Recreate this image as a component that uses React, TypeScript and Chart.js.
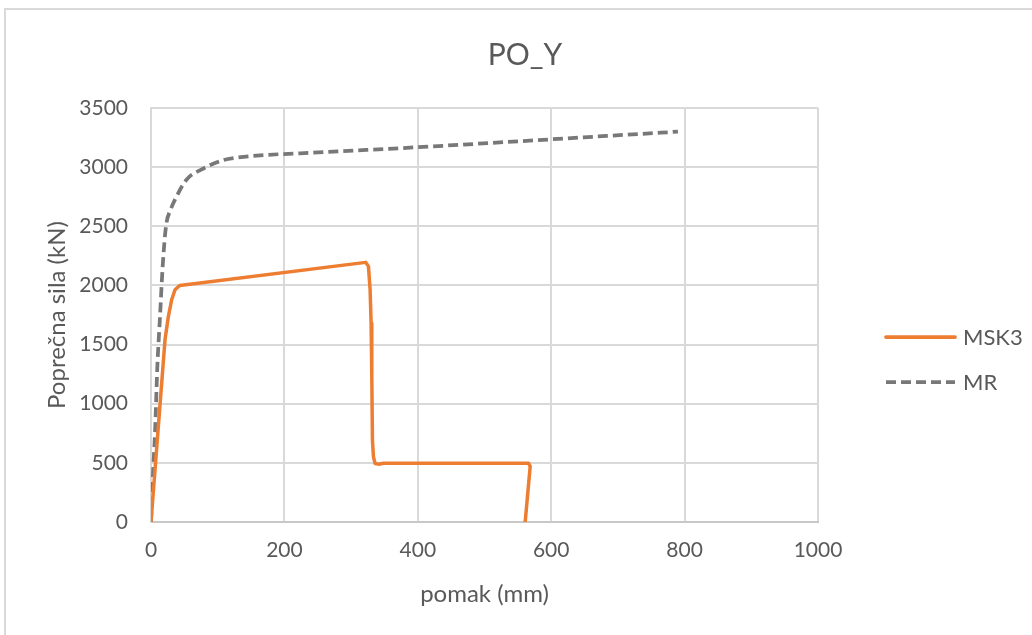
import React, { useEffect, useRef } from "react";
import { Chart, registerables } from "chart.js";

Chart.register(...registerables);

const chartTitle = "PO_Y";
const xAxisTitle = "pomak (mm)";
const yAxisTitle = "Poprečna sila (kN)";

const msk3Name = "MSK3";
const msk3X = [0, 21, 26, 31, 36, 43, 322, 326, 328.5, 330, 331, 332, 333.5, 336, 341, 348.5, 566, 568.5, 561];
const msk3Y = [0, 1540, 1737, 1879, 1964, 2000, 2195, 2161, 1964, 1681, 1258, 692, 551, 495, 489, 497, 497, 470, 0];

const mrName = "MR";
const mrX = [0, 3.5, 6, 9.5, 13.5, 17.5, 22.5, 29.5, 38.5, 53.5, 76, 108.5, 125, 263.5, 373.5, 790];
const mrY = [0, 466, 750, 1313, 1737, 2161, 2500, 2641, 2754, 2896, 2981, 3060, 3078, 3128, 3160, 3300];

const xMin = 0;
const xMax = 1000;
const xStep = 200;
const yMin = 0;
const yMax = 3500;
const yStep = 500;

const ORANGE = "#ED7D31";
const GRAY = "#787878";
const TEXT = "#595959";
const GRID = "#D9D9D9";
const FONT = "Lato, 'Open Sans', sans-serif";

const toPoints = (xs: number[], ys: number[]) => xs.map((x, i) => ({ x, y: ys[i] }));

const frameTitleLegend = {
  id: "frameTitleLegend",
  beforeDraw(chart: any) {
    const { ctx, width, height } = chart;
    ctx.save();
    ctx.fillStyle = "#ffffff";
    ctx.fillRect(0, 0, width, height);
    ctx.strokeStyle = GRID;
    ctx.lineWidth = 2;
    ctx.beginPath();
    ctx.moveTo(5, height + 5);
    ctx.lineTo(5, 9);
    ctx.lineTo(width + 5, 9);
    ctx.stroke();
    ctx.fillStyle = TEXT;
    ctx.font = `30px ${FONT}`;
    ctx.textAlign = "center";
    ctx.textBaseline = "middle";
    ctx.fillText(chartTitle, 525, 55);
    ctx.restore();
  },
  afterDraw(chart: any) {
    const { ctx } = chart;
    const items = chart.data.datasets.map((ds: any, i: number) => ({
      label: ds.label,
      color: ds.borderColor,
      dash: ds.borderDash || [],
      y: 337 + i * 45,
    }));
    ctx.save();
    items.forEach((it: any) => {
      ctx.strokeStyle = it.color;
      ctx.lineWidth = 3.75;
      ctx.lineCap = it.dash.length ? "butt" : "round";
      ctx.setLineDash(it.dash);
      ctx.beginPath();
      ctx.moveTo(886, it.y);
      ctx.lineTo(955, it.y);
      ctx.stroke();
      ctx.setLineDash([]);
      ctx.fillStyle = TEXT;
      ctx.font = `22px ${FONT}`;
      ctx.textBaseline = "middle";
      ctx.textAlign = "left";
      ctx.fillText(it.label, 963, it.y + 1);
    });
    ctx.restore();
  },
};

export default function App() {
  const ref = useRef<HTMLCanvasElement | null>(null);

  useEffect(() => {
    document.body.style.margin = "0";
    const canvas = ref.current;
    if (!canvas) return;
    const chart = new Chart(canvas, {
      type: "scatter",
      data: {
        datasets: [
          {
            label: msk3Name,
            data: toPoints(msk3X, msk3Y),
            showLine: true,
            borderColor: ORANGE,
            backgroundColor: ORANGE,
            borderWidth: 3.5,
            pointRadius: 0,
            tension: 0,
            borderJoinStyle: "round",
            borderCapStyle: "round",
          },
          {
            label: mrName,
            data: toPoints(mrX, mrY),
            showLine: true,
            borderColor: GRAY,
            backgroundColor: GRAY,
            borderWidth: 3.75,
            borderDash: [10, 5],
            pointRadius: 0,
            tension: 0.3,
            cubicInterpolationMode: "monotone",
          },
        ],
      },
      options: {
        animation: false,
        responsive: false,
        maintainAspectRatio: false,
        layout: { padding: { left: 0, right: 214, top: 108, bottom: 0 } },
        plugins: {
          legend: { display: false },
          tooltip: { enabled: false },
          title: { display: false },
        },
        scales: {
          x: {
            type: "linear",
            min: xMin,
            max: xMax,
            ticks: {
              stepSize: xStep,
              color: TEXT,
              font: { family: FONT, size: 21 },
              padding: 16,
              maxRotation: 0,
              callback: (v: any) => String(v),
            },
            grid: { color: GRID, lineWidth: 2, drawTicks: false },
            border: { color: "#C8C8C8", width: 2 },
            title: {
              display: true,
              text: xAxisTitle,
              color: TEXT,
              font: { family: FONT, size: 24 },
              padding: { top: 0, bottom: 26 },
            },
            afterFit: (scale: any) => {
              scale.height = 113;
            },
          },
          y: {
            type: "linear",
            min: yMin,
            max: yMax,
            ticks: {
              stepSize: yStep,
              color: TEXT,
              font: { family: FONT, size: 21 },
              padding: 23,
              callback: (v: any) => String(v),
            },
            grid: { color: GRID, lineWidth: 2, drawTicks: false },
            border: { color: GRID, width: 2 },
            title: {
              display: true,
              text: yAxisTitle,
              color: TEXT,
              font: { family: FONT, size: 24 },
              padding: { top: 43, bottom: 0 },
            },
            afterFit: (scale: any) => {
              scale.width = 151;
            },
          },
        },
      },
      plugins: [frameTitleLegend],
    } as any);
    return () => chart.destroy();
  }, []);

  return <canvas ref={ref} width={1032} height={635} style={{ display: "block" }} />;
}
